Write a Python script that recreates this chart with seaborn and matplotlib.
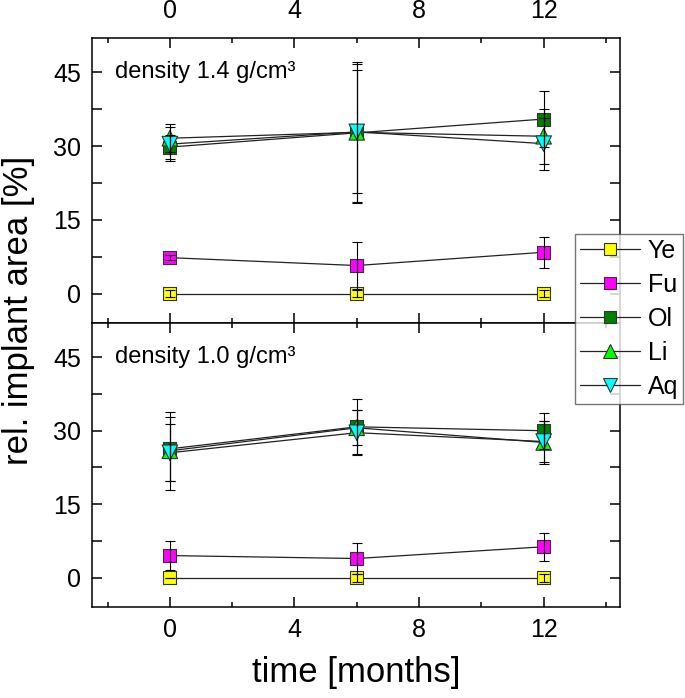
import numpy as np
import pandas as pd
import seaborn as sns
import matplotlib
matplotlib.use("Agg")
from matplotlib import pyplot as plt
from matplotlib.lines import Line2D
from matplotlib.ticker import MultipleLocator

# data (months after implantation)
months = [0, 6, 12]
groups = ["Ye", "Fu", "Ol", "Li", "Aq"]

# density 1.4 g/cm3 (top panel)
ye_14 = [0.0, 0.0, 0.0]
fu_14 = [7.3, 5.7, 8.4]
ol_14 = [29.8, 32.7, 35.5]
li_14 = [31.6, 32.8, 32.0]
aq_14 = [30.4, 32.9, 30.5]
ye_14_err = [0.8, 0.8, 0.7]
fu_14_err = [0.5, 4.7, 3.2]
ol_14_err = [2.5, 14.0, 5.7]
li_14_err = [2.9, 14.3, 5.6]
aq_14_err = [3.5, 12.5, 5.3]

# density 1.0 g/cm3 (bottom panel)
ye_10 = [0.0, 0.0, 0.0]
fu_10 = [4.5, 3.9, 6.3]
ol_10 = [26.3, 30.8, 30.0]
li_10 = [25.9, 30.6, 27.6]
aq_10 = [25.5, 29.6, 27.8]
ye_10_err = [0.0, 0.8, 0.8]
fu_10_err = [3.0, 3.2, 2.9]
ol_10_err = [6.6, 5.6, 3.7]
li_10_err = [8.0, 3.6, 4.4]
aq_10_err = [5.8, 4.6, 4.2]

panel_labels = ["density 1.4 g/cm³", "density 1.0 g/cm³"]
x_ticks = [0, 4, 8, 12]
y_ticks = [0, 15, 30, 45]

colors = {"Ye": "#ffff00", "Fu": "#ff00ff", "Ol": "#007f00", "Li": "#00ff00", "Aq": "#00ffff"}
markers = {"Ye": "s", "Fu": "s", "Ol": "s", "Li": "^", "Aq": "v"}
sizes = {"Ye": 88, "Fu": 88, "Ol": 88, "Li": 125, "Aq": 125}


def make_frame(values, errors):
    rows = []
    for g, vals, errs in zip(groups, values, errors):
        for t, v, e in zip(months, vals, errs):
            rows.append({"time": t, "value": v, "err": e, "group": g})
    return pd.DataFrame(rows)


df_14 = make_frame([ye_14, fu_14, ol_14, li_14, aq_14],
                   [ye_14_err, fu_14_err, ol_14_err, li_14_err, aq_14_err])
df_10 = make_frame([ye_10, fu_10, ol_10, li_10, aq_10],
                   [ye_10_err, fu_10_err, ol_10_err, li_10_err, aq_10_err])

sns.set_theme(style="ticks")
plt.rcParams["font.family"] = ["Liberation Sans", "DejaVu Sans"]
plt.rcParams["axes.linewidth"] = 1.1
plt.rcParams["axes.edgecolor"] = "black"
plt.rcParams["text.color"] = "black"
plt.rcParams["axes.labelcolor"] = "black"

fig = plt.figure(figsize=(6.85, 6.98), dpi=100)
ax_top = fig.add_axes([0.1343, 0.5372, 0.7708, 0.4084])
ax_bot = fig.add_axes([0.1343, 0.1304, 0.7708, 0.4068])

for ax, df, label in zip([ax_top, ax_bot], [df_14, df_10], panel_labels):
    sns.lineplot(data=df, x="time", y="value", units="group", estimator=None,
                 color="#222222", lw=0.9, ax=ax, zorder=2)
    sns.scatterplot(data=df, x="time", y="value", hue="group", style="group",
                    size="group", palette=colors, markers=markers, sizes=sizes,
                    edgecolor="#333333", linewidth=0.8, legend=False, ax=ax, zorder=3)
    for g in groups:
        sub = df[df["group"] == g]
        ax.errorbar(sub["time"], sub["value"], yerr=sub["err"], fmt="none",
                    ecolor="black", elinewidth=0.8, capsize=3.6, capthick=0.8, zorder=4)

    ax.set_xlim(-2.5, 14.45)
    ax.set_ylim(-6, 52)
    ax.set_xticks(x_ticks)
    ax.set_yticks(y_ticks)
    ax.xaxis.set_minor_locator(MultipleLocator(2))
    ax.yaxis.set_minor_locator(MultipleLocator(7.5))
    ax.tick_params(which="both", direction="in", top=True, right=True,
                   width=1.1, labelsize=18, colors="black")
    ax.tick_params(axis="y", which="both", length=7, pad=8)
    ax.tick_params(axis="x", which="major", length=7, pad=8)
    ax.tick_params(axis="x", which="minor", length=3.5)
    ax.set_xlabel("")
    ax.set_ylabel("")
    ax.text(0.044, 0.879, label, transform=ax.transAxes, ha="left", va="center",
            fontsize=17)

ax_top.tick_params(axis="x", labelbottom=False, labeltop=True, pad=11)

ax_bot.set_xlabel("time [months]", fontsize=25, labelpad=10)
fig.text(0.027, 1 - 310 / 698, "rel. implant area [%]", rotation=90, ha="center",
         va="center", fontsize=25)

handles = [Line2D([0], [0], color="#222222", lw=0.9, marker=markers[g],
                  markerfacecolor=colors[g], markeredgecolor="#333333",
                  markeredgewidth=0.8, markersize=8 if markers[g] == "s" else 9.5)
           for g in groups]
leg = fig.legend(handles, groups, loc="upper left",
                 bbox_to_anchor=(575 / 685, 1 - 234 / 698), fontsize=18,
                 frameon=True, fancybox=False, handlelength=2.4,
                 handletextpad=0.3, labelspacing=0.4, borderpad=0.2,
                 borderaxespad=0)
leg.get_frame().set_edgecolor("#555555")
leg.get_frame().set_linewidth(1.0)

plt.savefig("out.png", dpi=100)
